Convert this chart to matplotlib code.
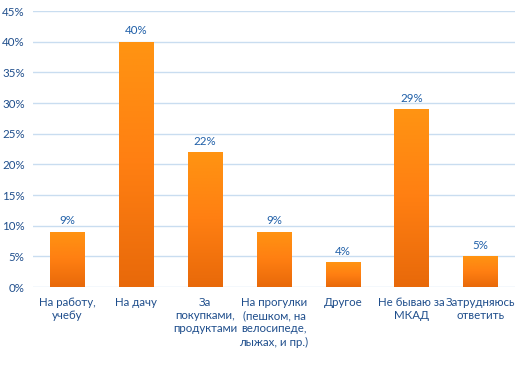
import matplotlib.pyplot as plt
import numpy as np
from matplotlib.colors import LinearSegmentedColormap

plt.rcParams['font.family'] = ['Lato', 'DejaVu Sans']

categories = ["На работу,\nучебу", "На дачу", "За\nпокупками,\nпродуктами",
              "На прогулки\n(пешком, на\nвелосипеде,\nлыжах, и пр.)", "Другое",
              "Не бываю за\nМКАД", "Затрудняюсь\nответить"]
values = [9, 40, 22, 9, 4, 29, 5]
yticks = [0, 5, 10, 15, 20, 25, 30, 35, 40, 45]

fig = plt.figure(figsize=(5.19, 3.66), dpi=100)
ax = fig.add_axes([33 / 519, 1 - 287 / 366, 482 / 519, 276 / 366])

x = np.arange(len(values))
bars = ax.bar(x, values, width=0.5, color='none', zorder=3)

# вертикальный градиент на столбцах
cmap = LinearSegmentedColormap.from_list('og', ['#E8690A', '#FF7F12', '#FF9412'])
grad = np.linspace(0, 1, 256).reshape(-1, 1)
for b in bars:
    x0, y0 = b.get_x(), b.get_y()
    w, h = b.get_width(), b.get_height()
    im = ax.imshow(grad, cmap=cmap, aspect='auto', origin='lower',
                   extent=[x0, x0 + w, y0, y0 + h], zorder=3)
    im.set_clip_path(b)

for xi, v in zip(x, values):
    ax.text(xi, v + 0.9, f"{v}%", ha='center', va='bottom', fontsize=8.3, color='#1F5FA8')

ax.set_xlim(-0.5, len(values) - 0.5)
ax.set_ylim(0, 45)
ax.set_yticks(yticks)
ax.set_yticklabels([f"{t}%" for t in yticks], fontsize=8.3, color='#1F4E8C')
ax.set_xticks(x)
ax.set_xticklabels(categories, fontsize=8.3, color='#1F4E8C', linespacing=1.25)
ax.tick_params(axis='y', length=0, pad=6)
ax.tick_params(axis='x', length=0, pad=7)
ax.grid(axis='y', color='#C9DDF0', linewidth=1, zorder=0)
for s in ax.spines.values():
    s.set_visible(False)

fig.savefig('out.png', dpi=100)
